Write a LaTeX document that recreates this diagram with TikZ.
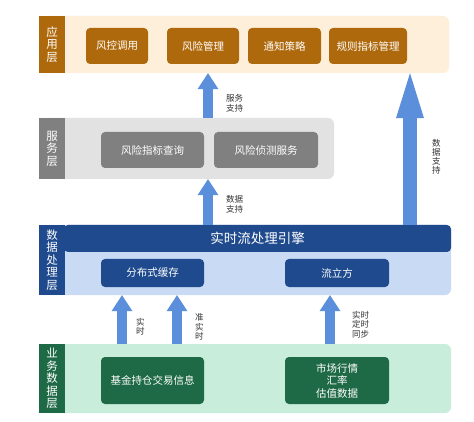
\documentclass[tikz,border=0pt]{standalone}
\usepackage{fontspec}
\setmainfont{Noto Sans CJK SC}
\usepackage{xcolor}
\usetikzlibrary{arrows.meta}
\definecolor{appdark}{HTML}{AE690C}
\definecolor{applight}{HTML}{FDEFDA}
\definecolor{svcdark}{HTML}{808080}
\definecolor{svclight}{HTML}{E2E2E2}
\definecolor{datadark}{HTML}{1F4A8D}
\definecolor{datalight}{HTML}{C9DAF5}
\definecolor{bizdark}{HTML}{1E6A46}
\definecolor{bizlight}{HTML}{C8EEDB}
\definecolor{flow}{HTML}{5C8FDB}
\definecolor{note}{HTML}{333333}

\begin{document}
\begin{tikzpicture}[x=1pt,y=-1pt,
  band/.style={rounded corners=6pt, inner sep=0pt},
  strip/.style={minimum width=26, inner sep=0pt, text=white, align=center,
    font=\fontsize{11.5}{12.5}\selectfont},
  box/.style={rounded corners=4pt, inner sep=0pt, text=white,
    font=\fontsize{10.5}{13}\selectfont, align=center},
  fatarrow/.style={flow, line width=10pt,
    -{Triangle[width=21pt,length=16pt,line width=0pt]}},
  widearrow/.style={flow, line width=14pt,
    -{Triangle[width=28pt,length=45pt,line width=0pt]}},
  note/.style={text=note, inner sep=0pt, align=center,
    font=\fontsize{8.5}{9.5}\selectfont}]
\path[fill=white] (0,0) rectangle (474,422);

% helper: one layer = rounded band (name #1) + label strip (#1lbl)
% #2 right x, #3 top y, #4 bottom y, #5 band colour, #6 strip colour, #7 label
\newcommand{\drawlayer}[7]{%
  \node[band, fill=#5, minimum width={#2-39}, minimum height={#4-#3}]
    (#1) at ({(39+#2)/2},{(#3+#4)/2}) {};
  \node[strip, fill=#6, minimum height={#4-#3}]
    (#1lbl) at (52,{(#3+#4)/2}) {#7};
}
\drawlayer{app}{449}{16}{73}{applight}{appdark}{应\\用\\层}
\drawlayer{svc}{334}{118}{179}{svclight}{svcdark}{服\\务\\层}
\drawlayer{data}{451}{225}{295}{datalight}{datadark}{数\\据\\处\\理\\层}
\drawlayer{biz}{451}{344}{413}{bizlight}{bizdark}{业\\务\\数\\据\\层}

% application boxes
\foreach \name/\cx/\w/\txt in {appa/117/62/风控调用, appb/203/72/风险管理,
    appc/284.5/73/通知策略, appd/368/78/规则指标管理}{
  \node[box, fill=appdark, minimum width=\w, minimum height=36]
    (\name) at (\cx,46) {\txt};
}
% service boxes
\node[box, fill=svcdark, minimum width=103, minimum height=36] (svca) at (152.5,150) {风险指标查询};
\node[box, fill=svcdark, minimum width=104, minimum height=36] (svcb) at (266,150) {风险侦测服务};

% data processing
\node[box, fill=datadark, minimum width=387, minimum height=27,
  font=\fontsize{13.5}{15}\selectfont] (engine) at (257.5,238.5) {实时流处理引擎};
\node[box, fill=datadark, minimum width=103, minimum height=28] (cache) at (152.5,273) {分布式缓存};
\node[box, fill=datadark, minimum width=104, minimum height=28] (cube) at (337,273) {流立方};

% business data
\node[box, fill=bizdark, minimum width=103, minimum height=47] (fund) at (152.5,380.5) {基金持仓交易信息};
\node[box, fill=bizdark, minimum width=104, minimum height=47,
  font=\fontsize{10.5}{12.5}\selectfont] (market) at (337,380.5) {市场行情\\汇率\\估值数据};

% arrow columns
\coordinate (colmid) at (208,0);
\coordinate (colright) at (410,0);
\coordinate (colrt) at (122,0);
\coordinate (colnrt) at (177,0);
\coordinate (colsync) at (330,0);

\draw[fatarrow] (svc.north -| colmid) -- node[pos=0.33, note, anchor=west, xshift=13pt] {服务\\支持} (app.south -| colmid);
\draw[fatarrow] (data.north -| colmid) -- node[pos=0.45, note, anchor=west, xshift=13pt] {数据\\支持} (svc.south -| colmid);
\draw[widearrow] (data.north -| colright) -- node[pos=0.45, note, anchor=west, xshift=15pt,
  font=\fontsize{8.5}{9}\selectfont] {数\\据\\支\\持} (app.south -| colright);
\draw[fatarrow] (biz.north -| colrt) -- node[pos=0.35, note, anchor=west, xshift=9pt] {实\\时} (data.south -| colrt);
\draw[fatarrow] (biz.north -| colnrt) -- node[pos=0.35, note, anchor=west, xshift=13pt] {准\\实\\时} (data.south -| colnrt);
\draw[fatarrow] (biz.north -| colsync) -- node[pos=0.4, note, anchor=west, xshift=17pt] {实时\\定时\\同步} (data.south -| colsync);
\end{tikzpicture}
\end{document}
